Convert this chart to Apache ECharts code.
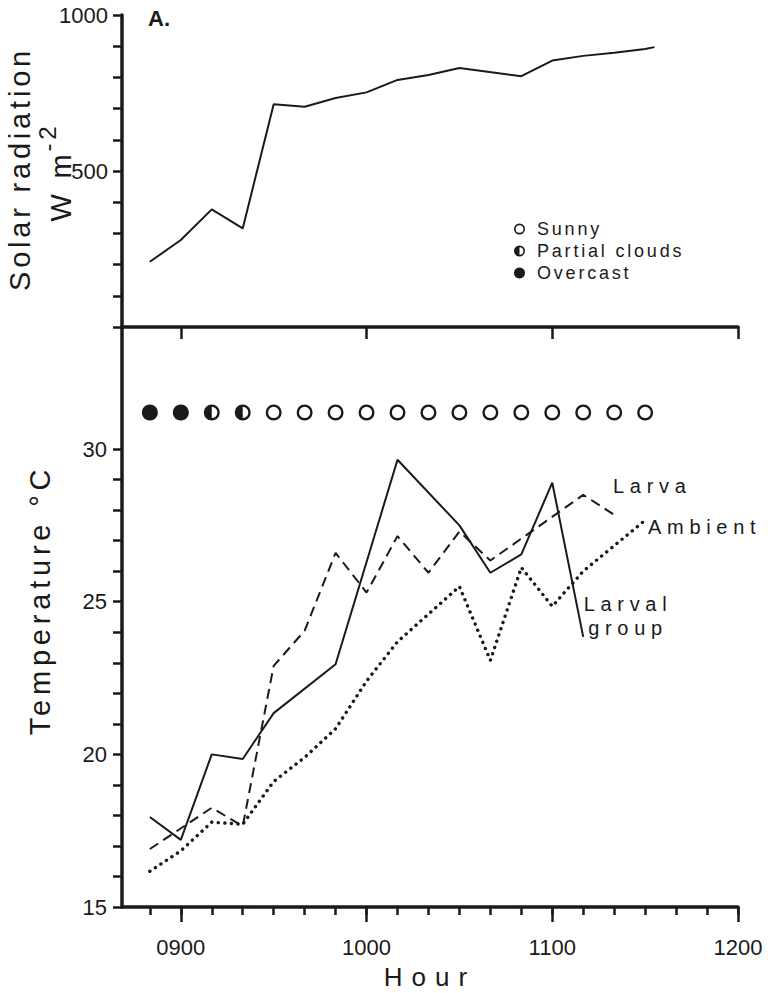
<!DOCTYPE html>
<html><head><meta charset="utf-8">
<script src="https://cdn.jsdelivr.net/npm/echarts@6/dist/echarts.min.js"></script>
<style>
html,body{margin:0;padding:0;background:#fff;}
#c{width:775px;height:993px;}
#c text[style*="lsA"]{letter-spacing:3.8px;}
#c text[style*="lsB"]{letter-spacing:5.7px;}
#c text[style*="lsC"]{letter-spacing:2.8px;}
#c text[style*="lsD"]{letter-spacing:9px;}
#c text[style*="lsE"]{letter-spacing:4.8px;}
</style></head><body><div id="c"></div>
<script>
// time values are minutes after 08:00
const solarTime  = [50, 60, 70, 80, 90, 100, 110, 120, 130, 140, 150, 170, 180, 190, 200, 210, 213];
const solarValue = [209, 279, 377, 316, 714, 706, 734, 752, 792, 808, 830, 804, 854, 869, 879, 891, 897];

const groupTime = [50, 60, 70, 80, 90, 110, 130, 150, 160, 170, 180, 190];
const groupTemp = [17.95, 17.2, 20.0, 19.85, 21.35, 22.95, 29.65, 27.5, 25.95, 26.55, 28.9, 23.85];

const larvaTime = [50, 70, 80, 90, 100, 110, 120, 130, 140, 150, 160, 190, 200];
const larvaTemp = [16.9, 18.25, 17.65, 22.9, 24.05, 26.6, 25.3, 27.15, 25.95, 27.3, 26.35, 28.5, 27.85];

const ambientTime = [50, 60, 70, 80, 90, 100, 110, 120, 130, 150, 160, 170, 180, 190, 210];
const ambientTemp = [16.17, 16.84, 17.78, 17.71, 19.11, 19.9, 20.84, 22.4, 23.69, 25.5, 23.08, 26.12, 24.85, 26.0, 27.67];

const skyTime  = [50, 60, 70, 80, 90, 100, 110, 120, 130, 140, 150, 160, 170, 180, 190, 200, 210];
const skyState = ['Overcast','Overcast','Partial clouds','Partial clouds','Sunny','Sunny','Sunny','Sunny','Sunny','Sunny','Sunny','Sunny','Sunny','Sunny','Sunny','Sunny','Sunny'];
const skyLevel = 31.2;

const hourLabels = {60: '0900', 120: '1000', 180: '1100', 240: '1200'};
const solarTickLabels = [500, 1000];
const tempTickLabels = [15, 20, 25, 30];

const INK = '#1a1a1a';
const ringPath = 'path://M10,0A10,10 0 1,1 10,20A10,10 0 1,1 10,0ZM10,3A7,7 0 1,0 10,17A7,7 0 1,0 10,3Z';
const halfPath = 'path://M10,0A10,10 0 1,1 10,20A10,10 0 1,1 10,0ZM10,3A7,7 0 1,0 10,17A7,7 0 1,0 10,3ZM10,3A7,7 0 0,0 10,17Z';
const symbolFor = {'Sunny': ringPath, 'Partial clouds': halfPath, 'Overcast': 'circle'};

function zip(a, b) { return a.map((v, i) => [v, b[i]]); }
function skyData(state) {
  const out = [];
  skyTime.forEach((t, i) => { if (skyState[i] === state) out.push([t, skyLevel]); });
  return out;
}

const axisLineStyle = {color: INK, width: 3.5};
const tickStyle = {color: INK, width: 2.5};
const labelFont = {color: INK, fontSize: 22, fontFamily: 'Liberation Sans'};

const X0 = 41, X1 = 240;
const pxPerMin = 616 / (X1 - X0);
const leftAt = t => 122 + (t - X0) * pxPerMin;
const B_TOP = 327, B_H = 580, Y0 = 15, Y1 = 34;
const pxPerDeg = B_H / (Y1 - Y0);

const grids = [
  {left: 122, right: 37, top: 15, height: 312},                       // 0 solar data
  {left: leftAt(60), right: 37, top: 15, height: 312},                // 1 solar hour ticks
  {left: 122, right: 37, top: B_TOP, height: B_H},                    // 2 temperature data
  {left: 122, right: 37, top: B_TOP + (Y1 - 30) * pxPerDeg, height: 15 * pxPerDeg}, // 3 temp y ticks
  {left: leftAt(50), right: 37, top: B_TOP, height: B_H},             // 4 10-min ticks
  {left: leftAt(60), right: 37, top: B_TOP, height: B_H}              // 5 hour ticks + labels
].map(g => Object.assign({outerBoundsMode: 'none', containLabel: false}, g));

const hidden = {show: false};
const xAxes = [
  {gridIndex: 0, type: 'value', min: X0, max: X1, axisLine: {show: true, onZero: false, lineStyle: axisLineStyle}, axisTick: hidden, axisLabel: hidden, splitLine: hidden},
  {gridIndex: 1, type: 'value', min: 60, max: 240, interval: 60, axisLine: hidden, axisTick: {show: true, length: 12, lineStyle: tickStyle}, axisLabel: hidden, splitLine: hidden},
  {gridIndex: 2, type: 'value', min: X0, max: X1, axisLine: {show: true, onZero: false, lineStyle: axisLineStyle}, axisTick: hidden, axisLabel: hidden, splitLine: hidden,
   name: 'Hour', nameLocation: 'middle', nameGap: 57,
   nameTextStyle: {color: INK, fontSize: 26, fontFamily: 'Liberation Sans, lsD'}},
  {gridIndex: 3, type: 'value', min: X0, max: X1, show: false},
  {gridIndex: 4, type: 'value', min: 50, max: 240, interval: 10, axisLine: hidden, axisTick: {show: true, length: 8, lineStyle: tickStyle}, axisLabel: hidden, splitLine: hidden},
  {gridIndex: 5, type: 'value', min: 60, max: 240, interval: 60, axisLine: hidden,
   axisTick: {show: true, length: 15, lineStyle: tickStyle},
   axisLabel: Object.assign({show: true, margin: 29, showMinLabel: true, showMaxLabel: true, formatter: v => hourLabels[v] || ''}, labelFont),
   splitLine: hidden}
];
const yAxes = [
  {gridIndex: 0, type: 'value', min: 0, max: 1000, interval: 100,
   axisLine: {show: true, onZero: false, lineStyle: axisLineStyle},
   axisTick: {show: true, length: 9, lineStyle: tickStyle},
   axisLabel: Object.assign({show: true, margin: 14, showMinLabel: true, showMaxLabel: true,
     formatter: v => solarTickLabels.indexOf(v) >= 0 ? String(v) : ''}, labelFont),
   splitLine: hidden},
  {gridIndex: 1, type: 'value', min: 0, max: 1000, show: false},
  {gridIndex: 2, type: 'value', min: Y0, max: Y1, axisLine: {show: true, onZero: false, lineStyle: axisLineStyle}, axisTick: hidden, axisLabel: hidden, splitLine: hidden},
  {gridIndex: 3, type: 'value', min: 15, max: 30, interval: 1, axisLine: hidden,
   axisTick: {show: true, length: 9, lineStyle: tickStyle},
   axisLabel: Object.assign({show: true, margin: 15, showMinLabel: true, showMaxLabel: true,
     formatter: v => tempTickLabels.indexOf(v) >= 0 ? String(v) : ''}, labelFont),
   splitLine: hidden},
  {gridIndex: 4, type: 'value', min: Y0, max: Y1, show: false},
  {gridIndex: 5, type: 'value', min: Y0, max: Y1, show: false}
];

const series = [
  {name: 'Solar radiation', type: 'line', xAxisIndex: 0, yAxisIndex: 0, data: zip(solarTime, solarValue),
   showSymbol: false, symbol: 'none', lineStyle: {color: INK, width: 2}, itemStyle: {color: INK}},
  {name: 'Larval group', type: 'line', xAxisIndex: 2, yAxisIndex: 2, data: zip(groupTime, groupTemp),
   showSymbol: false, symbol: 'none', lineStyle: {color: INK, width: 2}, itemStyle: {color: INK}},
  {name: 'Larva', type: 'line', xAxisIndex: 2, yAxisIndex: 2, data: zip(larvaTime, larvaTemp),
   showSymbol: false, symbol: 'none', lineStyle: {color: INK, width: 2, type: [10, 6]}, itemStyle: {color: INK}},
  {name: 'Ambient', type: 'line', xAxisIndex: 2, yAxisIndex: 2, data: zip(ambientTime, ambientTemp),
   showSymbol: false, symbol: 'none', lineStyle: {color: INK, width: 3.4, type: [0.1, 6.5], cap: 'round'}, itemStyle: {color: INK}}
];
['Sunny', 'Partial clouds', 'Overcast'].forEach(state => {
  series.push({name: state, type: 'scatter', xAxisIndex: 2, yAxisIndex: 2, data: skyData(state),
    symbol: symbolFor[state], symbolSize: 16, itemStyle: {color: INK, opacity: 1}});
});

const titleFont = 'Liberation Sans, lsA';
const option = {
  animation: false,
  backgroundColor: '#fff',
  grid: grids, xAxis: xAxes, yAxis: yAxes, series: series,
  legend: {
    orient: 'vertical', left: 514, top: 220, padding: 0, itemGap: 4,
    itemWidth: 11, itemHeight: 11, selectedMode: false,
    data: [{name: 'Sunny', icon: ringPath}, {name: 'Partial clouds', icon: halfPath}, {name: 'Overcast', icon: 'circle'}],
    textStyle: {color: INK, fontSize: 18, fontFamily: 'Liberation Sans, lsC', padding: [0, 0, 0, 7]}
  },
  graphic: [
    {type: 'text', x: 148, y: 18, style: {text: 'A.', fill: INK, fontSize: 22, fontWeight: 'bold', fontFamily: 'Liberation Sans', textAlign: 'left', textVerticalAlign: 'middle'}},
    {type: 'text', x: 20, y: 169, rotation: Math.PI / 2,
     style: {text: 'Solar radiation', fill: INK, fontSize: 29, fontFamily: titleFont, textAlign: 'center', textVerticalAlign: 'middle'}},
    {type: 'text', x: 55, y: 172, rotation: Math.PI / 2,
     style: {text: '{a|W m}{b| -2}', fill: INK, textAlign: 'center', textVerticalAlign: 'middle',
       rich: {a: {fontSize: 29, fontFamily: titleFont, lineHeight: 40, verticalAlign: 'bottom', fill: INK},
              b: {fontSize: 24, fontFamily: titleFont, lineHeight: 24, verticalAlign: 'top', fill: INK}}}},
    {type: 'text', x: 40, y: 600, rotation: Math.PI / 2,
     style: {text: 'Temperature °C', fill: INK, fontSize: 29, fontFamily: 'Liberation Sans, lsE', textAlign: 'center', textVerticalAlign: 'middle'}},
    {type: 'text', x: 613, y: 486, style: {text: 'Larva', fill: INK, fontSize: 20, fontFamily: 'Liberation Sans, lsB', textAlign: 'left', textVerticalAlign: 'middle'}},
    {type: 'text', x: 648, y: 527, style: {text: 'Ambient', fill: INK, fontSize: 20, fontFamily: 'Liberation Sans, lsB', textAlign: 'left', textVerticalAlign: 'middle'}},
    {type: 'text', x: 628, y: 616, style: {text: 'Larval\ngroup', fill: INK, fontSize: 20, lineHeight: 24, fontFamily: 'Liberation Sans, lsB', textAlign: 'center', textVerticalAlign: 'middle'}}
  ]
};

const chart = echarts.init(document.getElementById('c'), null, {renderer: 'svg'});
chart.setOption(option);
</script></body></html>
